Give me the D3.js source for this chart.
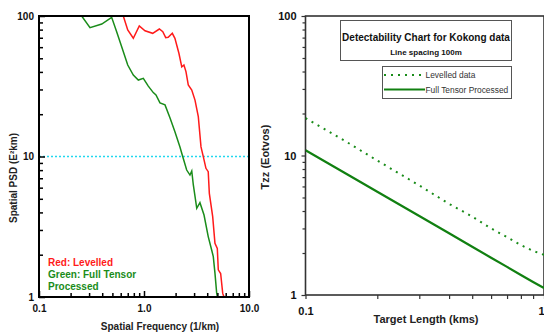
<!DOCTYPE html>
<html><head><meta charset="utf-8">
<script src="https://cdn.jsdelivr.net/npm/d3@7/dist/d3.min.js"></script>
<style>body{margin:0;background:#fff}svg{display:block;font-family:"Liberation Sans",Arial,sans-serif}</style>
</head><body><svg id="c" width="544" height="333"></svg>
<script>
// ---- Left panel: spatial PSD ----
const redFreq = [0.635,0.70,0.791,0.902,1.022,1.21,1.40,1.51,1.61,1.70,1.86,1.97,2.15,2.29,2.40,2.51,2.64,2.85,3.06,3.29,3.49,3.67,3.89,4.09,4.19,4.51,4.74,4.99,5.10,5.37,5.62,5.78];
const redPsd  = [100,79.5,69.4,84.9,78.5,75.3,80.8,77.3,70.1,70.6,75.3,69.4,54.3,43.5,44.8,40.2,32.3,29.7,25.2,19.2,11.7,9.97,8.24,7.80,5.47,3.73,2.41,2.22,1.56,1.47,1.06,1.0];
const greenFreq = [0.255,0.306,0.396,0.492,0.549,0.613,0.700,0.791,0.883,0.985,1.099,1.226,1.30,1.42,1.585,1.77,1.97,2.20,2.34,2.55,2.74,2.85,2.95,3.18,3.41,3.73,4.09,4.41,4.57,4.74,4.92,5.0];
const greenPsd  = [100,82.6,87.7,97.9,77.3,60.4,44.8,38.0,35.0,36.0,31.7,28.5,27.4,24.1,23.3,18.8,15.0,11.7,9.96,8.01,7.38,7.88,6.27,4.28,4.69,3.83,2.69,2.16,1.94,1.48,1.07,1.0];
const thresholdPsd = 10;
const leftXTicks = [0.1,1,10];
const leftXTickLabels = ["0.1","1.0","10.0"];
const leftYTicks = [1,10,100];
const leftYTickLabels = ["1","10","100"];
const leftLegend = ["Red: Levelled","Green: Full Tensor","Processed"];

// ---- Right panel: detectability ----
const targetLength = [0.1,0.15,0.2,0.3,0.4,0.5,0.6,0.7,0.8,0.9,1.0];
const levelledTzz  = [18.5,12.4,9.2,6.1,4.5,3.65,3.0,2.6,2.28,2.07,1.94];
const fullTensorTzz= [10.9,7.31,5.5,3.68,2.77,2.22,1.85,1.59,1.39,1.24,1.12];
const rightXTicks = [0.1,1];
const rightXTickLabels = ["0.1","1"];
const rightYTicks = [1,10,100];
const rightYTickLabels = ["1","10","100"];
const seriesNames = ["Levelled data","Full Tensor Processed"];

const svg = d3.select("#c");
const minorOf = (a,b) => { const r=[]; for(let d=a; d<b; d*=10) for(let k=2;k<=9;k++) r.push(d*k); return r; };

// ===== LEFT =====
const L = {x0:39,x1:249,y0:16,y1:297};
const xL = d3.scaleLog().domain([0.1,10]).range([L.x0,L.x1]);
const yL = d3.scaleLog().domain([1,100]).range([L.y1,L.y0]);
svg.append("clipPath").attr("id","clipL").append("rect")
  .attr("x",L.x0).attr("y",L.y0).attr("width",L.x1-L.x0).attr("height",L.y1-L.y0);

svg.append("line").attr("x1",L.x0).attr("x2",L.x1).attr("y1",yL(thresholdPsd)).attr("y2",yL(thresholdPsd))
  .attr("stroke","#22d8ee").attr("stroke-width",1.5).attr("stroke-dasharray","2,2");

const lineL = d3.line().x(d=>xL(d[0])).y(d=>yL(d[1]));
svg.append("path").datum(d3.zip(greenFreq,greenPsd)).attr("d",lineL)
  .attr("fill","none").attr("stroke","#1a8c1a").attr("stroke-width",1.5).attr("clip-path","url(#clipL)");
svg.append("path").datum(d3.zip(redFreq,redPsd)).attr("d",lineL)
  .attr("fill","none").attr("stroke","#ff1a1a").attr("stroke-width",1.5).attr("clip-path","url(#clipL)");

function styleAx(g){ g.select(".domain").remove(); g.selectAll("line").attr("stroke","#000").attr("stroke-width",1.5); }
svg.append("g").attr("transform",`translate(0,${L.y1})`)
  .call(d3.axisBottom(xL).tickValues(minorOf(0.1,10)).tickSize(-4).tickFormat("")).call(styleAx);
svg.append("g").attr("transform",`translate(0,${L.y1})`)
  .call(d3.axisBottom(xL).tickValues(leftXTicks).tickSize(-6).tickPadding(8).tickFormat((d,i)=>leftXTickLabels[i]))
  .call(styleAx).selectAll("text").attr("font-size",10).attr("font-weight","bold").attr("fill","#111")
  .attr("font-family","Liberation Sans, Arial, sans-serif");
svg.append("g").attr("transform",`translate(${L.x0},0)`)
  .call(d3.axisLeft(yL).tickValues(minorOf(1,100)).tickSize(-4).tickFormat("")).call(styleAx);
svg.append("g").attr("transform",`translate(${L.x0},0)`)
  .call(d3.axisLeft(yL).tickValues(leftYTicks).tickSize(-6).tickPadding(5).tickFormat((d,i)=>leftYTickLabels[i]))
  .call(styleAx).selectAll("text").attr("font-size",10).attr("font-weight","bold").attr("fill","#111")
  .attr("font-family","Liberation Sans, Arial, sans-serif");

svg.append("rect").attr("x",L.x0).attr("y",L.y0).attr("width",L.x1-L.x0).attr("height",L.y1-L.y0)
  .attr("fill","none").attr("stroke","#000").attr("stroke-width",2);

svg.append("text").attr("x",160).attr("y",330).attr("text-anchor","middle")
  .attr("font-size",10).attr("font-weight","bold").attr("fill","#222").text("Spatial Frequency (1/km)");
svg.append("text").attr("transform","translate(17,178) rotate(-90)").attr("text-anchor","middle")
  .attr("font-size",10).attr("font-weight","bold").attr("fill","#222")
  .text("Spatial PSD (E²km)");
const legCols = ["#ff1a1a","#1a8c1a","#1a8c1a"];
leftLegend.forEach((t,i)=>{
  svg.append("text").attr("x",48).attr("y",266+i*12).attr("font-size",10).attr("font-weight","bold")
    .attr("fill",legCols[i]).text(t);
});

// ===== RIGHT =====
const R = {x0:305.5,x1:544,y0:16,y1:295};
const xR = d3.scaleLog().domain([0.1,1]).range([R.x0,R.x1]);
const yR = d3.scaleLog().domain([1,100]).range([R.y1,R.y0]);
svg.append("clipPath").attr("id","clipR").append("rect")
  .attr("x",R.x0).attr("y",R.y0).attr("width",R.x1-R.x0).attr("height",R.y1-R.y0);

function styleAx2(g){ g.select(".domain").remove(); g.selectAll("line").attr("stroke","#333").attr("stroke-width",1.2); }
svg.append("g").attr("transform",`translate(0,${R.y1})`)
  .call(d3.axisBottom(xR).tickValues(minorOf(0.1,1)).tickSize(4).tickFormat("")).call(styleAx2);
const rx = svg.append("g").attr("transform",`translate(0,${R.y1})`)
  .call(d3.axisBottom(xR).tickValues(rightXTicks).tickSize(4).tickPadding(8).tickFormat((d,i)=>rightXTickLabels[i]))
  .call(styleAx2);
rx.selectAll("text").attr("font-size",11).attr("font-weight","bold").attr("fill","#111")
  .attr("font-family","Liberation Sans, Arial, sans-serif")
  .attr("text-anchor",(d,i)=> i===rightXTicks.length-1 ? "end" : "middle");
svg.append("g").attr("transform",`translate(${R.x0},0)`)
  .call(d3.axisLeft(yR).tickValues(minorOf(1,100)).tickSize(3).tickFormat("")).call(styleAx2);
svg.append("g").attr("transform",`translate(${R.x0},0)`)
  .call(d3.axisLeft(yR).tickValues(rightYTicks).tickSize(4).tickPadding(5).tickFormat((d,i)=>rightYTickLabels[i]))
  .call(styleAx2).selectAll("text").attr("font-size",11).attr("font-weight","bold").attr("fill","#111")
  .attr("font-family","Liberation Sans, Arial, sans-serif");

svg.append("rect").attr("x",R.x0).attr("y",R.y0).attr("width",R.x1-R.x0).attr("height",R.y1-R.y0)
  .attr("fill","none").attr("stroke","#333").attr("stroke-width",1.6);

const lineR = d3.line().x(d=>xR(d[0])).y(d=>yR(d[1]));
svg.append("path").datum(d3.zip(targetLength,levelledTzz)).attr("d",lineR)
  .attr("fill","none").attr("stroke","#1a8c1a").attr("stroke-width",2).attr("stroke-dasharray","2,5")
  .attr("clip-path","url(#clipR)");
svg.append("path").datum(d3.zip(targetLength,fullTensorTzz)).attr("d",lineR)
  .attr("fill","none").attr("stroke","#118011").attr("stroke-width",2.2).attr("clip-path","url(#clipR)");

svg.append("rect").attr("x",340.5).attr("y",20.5).attr("width",171).attr("height",40)
  .attr("fill","#fff").attr("stroke","#555").attr("stroke-width",1);
svg.append("text").attr("x",426).attr("y",41).attr("text-anchor","middle").attr("font-size",10)
  .attr("font-weight","bold").attr("fill","#111").text("Detectability Chart for Kokong data");
svg.append("text").attr("x",426).attr("y",54.5).attr("text-anchor","middle").attr("font-size",8)
  .attr("font-weight","bold").attr("fill","#111").text("Line spacing 100m");

svg.append("rect").attr("x",382.5).attr("y",66.5).attr("width",129).attr("height",32)
  .attr("fill","#fff").attr("stroke","#555").attr("stroke-width",1);
svg.append("line").attr("x1",384).attr("x2",422).attr("y1",75).attr("y2",75)
  .attr("stroke","#1a8c1a").attr("stroke-width",2).attr("stroke-dasharray","2,5");
svg.append("line").attr("x1",384).attr("x2",425).attr("y1",89.5).attr("y2",89.5)
  .attr("stroke","#118011").attr("stroke-width",2.2);
seriesNames.forEach((t,i)=>{
  svg.append("text").attr("x",425.5).attr("y",78+i*14.5).attr("font-size",8.4)
    .attr("fill","#333").text(t);
});

svg.append("text").attr("x",426).attr("y",323).attr("text-anchor","middle")
  .attr("font-size",11).attr("font-weight","bold").attr("fill","#222").text("Target Length (kms)");
svg.append("text").attr("transform","translate(269,157) rotate(-90)").attr("text-anchor","middle")
  .attr("font-size",11).attr("font-weight","bold").attr("fill","#222").text("Tzz (Eotvos)");
</script></body></html>
